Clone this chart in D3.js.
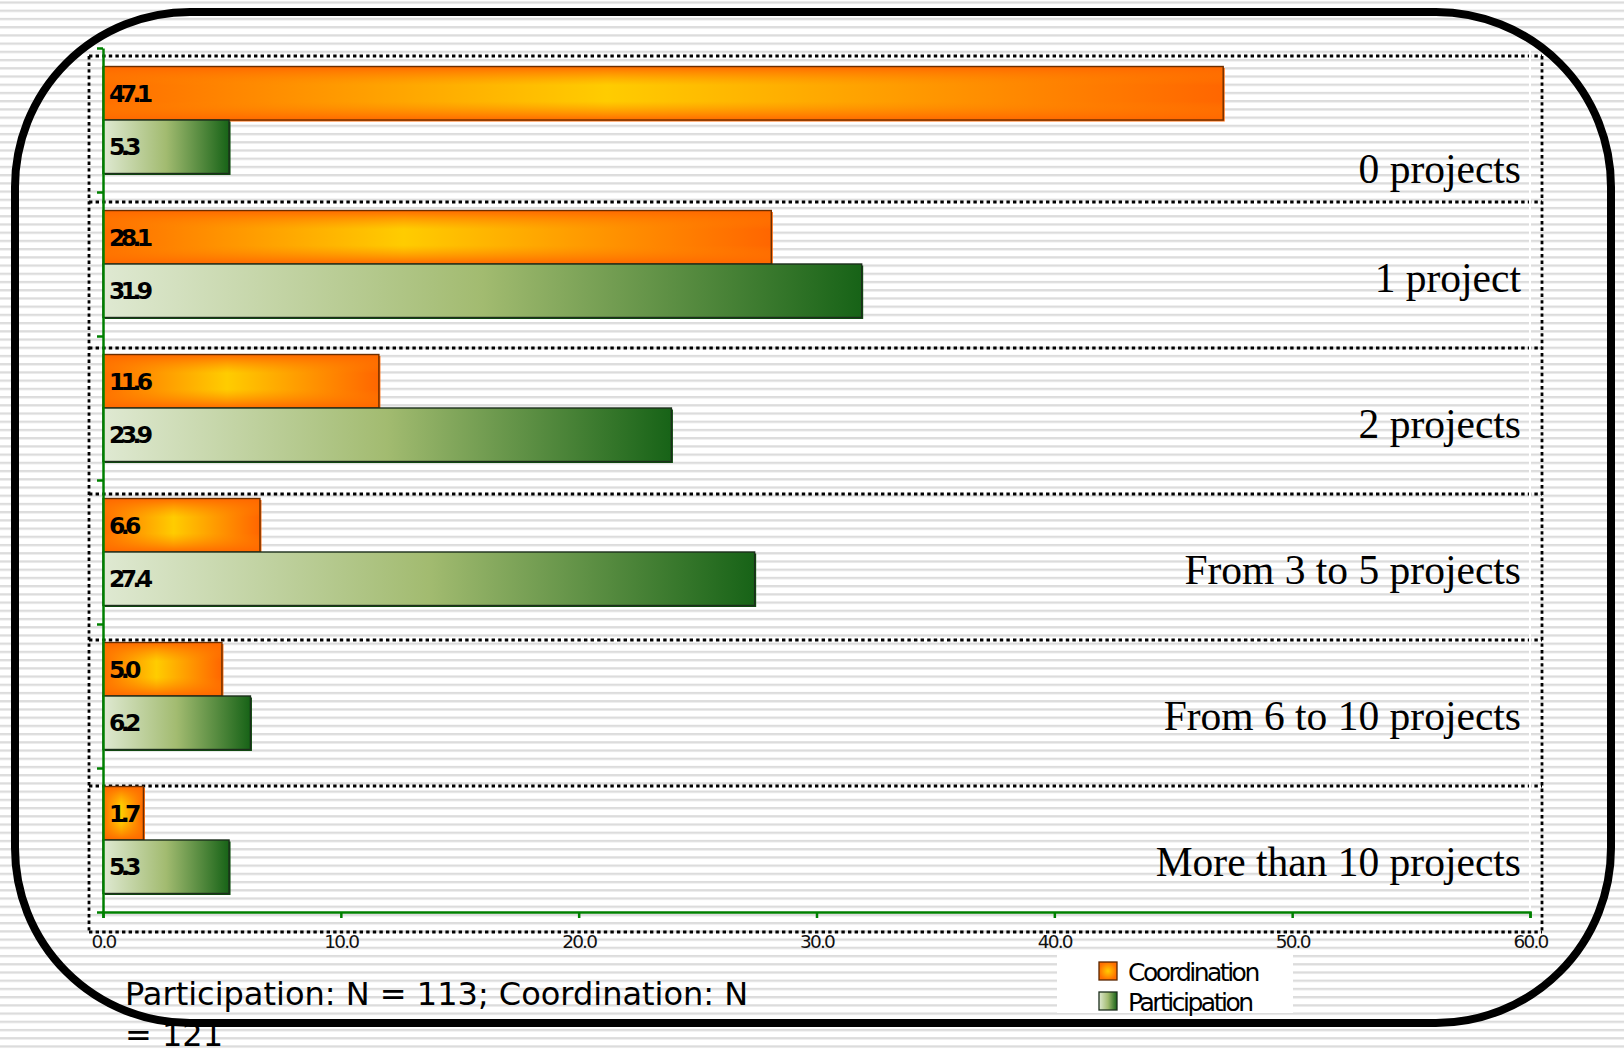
<!DOCTYPE html>
<html>
<head>
<meta charset="utf-8">
<script src="https://cdn.jsdelivr.net/npm/d3@7"></script>
<style>
  body { margin: 0; background: #fff; }
  svg { display: block; }
</style>
</head>
<body>
<svg id="canvas"></svg>
<script>
// Chart data
const categories = ["0 projects", "1 project", "2 projects", "From 3 to 5 projects", "From 6 to 10 projects", "More than 10 projects"];
const seriesNames = ["Coordination", "Participation"];
const coordination = [47.1, 28.1, 11.6, 6.6, 5.0, 1.7];
const participation = [5.3, 31.9, 23.9, 27.4, 6.2, 5.3];
const xTicks = [0, 10, 20, 30, 40, 50, 60];
const noteLines = ["Participation: N = 113; Coordination: N", "= 121"];

const width = 1624, height = 1049;
const axisGreen = "#008000";

const svg = d3.select("#canvas")
    .attr("width", width)
    .attr("height", height);

const defs = svg.append("defs");

// Striped background
const stripes = defs.append("pattern")
    .attr("id", "stripes")
    .attr("patternUnits", "userSpaceOnUse")
    .attr("width", 16)
    .attr("height", 8.22)
    .attr("patternTransform", "translate(0,1.4)");
stripes.append("rect").attr("width", 16).attr("height", 8.22).attr("fill", "#fff");
stripes.append("rect").attr("width", 16).attr("height", 2.3).attr("fill", "#dcdcdc");

// Orange bar gradients (horizontal + vertical edge overlay)
const orangeH = defs.append("linearGradient").attr("id", "orangeH");
orangeH.append("stop").attr("offset", "0%").attr("stop-color", "#ff6e00");
orangeH.append("stop").attr("offset", "45%").attr("stop-color", "#ffcc00");
orangeH.append("stop").attr("offset", "100%").attr("stop-color", "#ff6600");

const orangeV = defs.append("linearGradient").attr("id", "orangeV")
    .attr("x1", 0).attr("y1", 0).attr("x2", 0).attr("y2", 1);
orangeV.append("stop").attr("offset", "0%").attr("stop-color", "#ff6600").attr("stop-opacity", 0.95);
orangeV.append("stop").attr("offset", "35%").attr("stop-color", "#ff8800").attr("stop-opacity", 0);
orangeV.append("stop").attr("offset", "65%").attr("stop-color", "#ff8800").attr("stop-opacity", 0);
orangeV.append("stop").attr("offset", "100%").attr("stop-color", "#ff6600").attr("stop-opacity", 0.95);

const orangeR = defs.append("radialGradient").attr("id", "orangeR");
orangeR.append("stop").attr("offset", "0%").attr("stop-color", "#ffcc00");
orangeR.append("stop").attr("offset", "100%").attr("stop-color", "#ff7000");

// Green bar gradient
const greenH = defs.append("linearGradient").attr("id", "greenH");
greenH.append("stop").attr("offset", "0%").attr("stop-color", "#dfe9d2");
greenH.append("stop").attr("offset", "50%").attr("stop-color", "#a2bb70");
greenH.append("stop").attr("offset", "100%").attr("stop-color", "#176317");

svg.append("rect")
    .attr("width", width)
    .attr("height", height)
    .attr("fill", "url(#stripes)");

// Scales
const x = d3.scaleLinear().domain([0, 60]).range([103, 1530]);
const y = d3.scaleBand().domain(categories).range([48, 912]);
const ySub = d3.scaleBand().domain(seriesNames).range([0, y.bandwidth()]).paddingOuter(0.346);
const yEdge = d3.scaleLinear().domain([0, categories.length]).range([48, 912]);
const gridY = d3.scaleLinear().domain([0, categories.length]).range([56, 932]);

// Dotted frame and separators
const dotted = svg.append("g")
    .attr("stroke", "#000")
    .attr("stroke-width", 2.8)
    .attr("stroke-dasharray", "3.4,3.2")
    .attr("fill", "none");
dotted.selectAll("line.sep")
    .data(d3.range(categories.length + 1))
    .enter().append("line")
    .attr("class", "sep")
    .attr("x1", 89).attr("x2", 1542)
    .attr("y1", d => gridY(d)).attr("y2", d => gridY(d));
dotted.selectAll("line.side")
    .data([89, 1542])
    .enter().append("line")
    .attr("class", "side")
    .attr("x1", d => d).attr("x2", d => d)
    .attr("y1", gridY(0)).attr("y2", gridY(categories.length));

// faint plot edge at the right end of the value axis
svg.append("line")
    .attr("x1", x(60)).attr("x2", x(60))
    .attr("y1", 48).attr("y2", 912)
    .attr("stroke", "#fff").attr("stroke-width", 2);

// Bars
const rows = categories.map((c, i) => ({
    cat: c,
    values: [
        { key: "Coordination", value: coordination[i] },
        { key: "Participation", value: participation[i] }
    ]
}));

const groups = svg.selectAll("g.row")
    .data(rows)
    .enter().append("g")
    .attr("class", "row")
    .attr("transform", d => `translate(0,${y(d.cat)})`);

const bars = groups.selectAll("g.bar")
    .data(d => d.values)
    .enter().append("g")
    .attr("class", "bar");

// little offset shadow
bars.append("rect")
    .attr("x", x(0) + 1.5)
    .attr("y", d => ySub(d.key) + 1.5)
    .attr("width", d => x(d.value) - x(0))
    .attr("height", ySub.bandwidth())
    .attr("fill", d => d.key === "Coordination" ? "#ff6600" : "#0e4f0e");

bars.append("rect")
    .attr("x", x(0))
    .attr("y", d => ySub(d.key))
    .attr("width", d => x(d.value) - x(0))
    .attr("height", ySub.bandwidth())
    .attr("fill", d => d.key === "Coordination" ? "url(#orangeH)" : "url(#greenH)");

bars.filter(d => d.key === "Coordination").append("rect")
    .attr("x", x(0))
    .attr("y", d => ySub(d.key))
    .attr("width", d => x(d.value) - x(0))
    .attr("height", ySub.bandwidth())
    .attr("fill", "url(#orangeV)");

bars.append("rect")
    .attr("x", x(0))
    .attr("y", d => ySub(d.key))
    .attr("width", d => x(d.value) - x(0))
    .attr("height", ySub.bandwidth())
    .attr("fill", "none")
    .attr("stroke", d => d.key === "Coordination" ? "#6b2e00" : "#1c2e1c")
    .attr("stroke-width", 1.4);

bars.append("text")
    .attr("x", x(0) + 6)
    .attr("y", d => ySub(d.key) + ySub.bandwidth() / 2)
    .attr("dy", "0.36em")
    .attr("font-family", "DejaVu Sans")
    .attr("font-weight", "bold")
    .attr("font-size", 23.5)
    .attr("letter-spacing", -4.6)
    .attr("fill", "#000")
    .text(d => d.value.toFixed(1));

// Category labels (first one sits lower, under its long bar)
svg.selectAll("text.cat")
    .data(categories)
    .enter().append("text")
    .attr("class", "cat")
    .attr("x", 1521)
    .attr("y", (d, i) => gridY(i) + (i === 0 ? 127 : 90))
    .attr("text-anchor", "end")
    .attr("font-family", "Liberation Serif, Times New Roman, serif")
    .attr("font-size", 41.5)
    .attr("fill", "#000")
    .text(d => d);

// Axes
const yAxis = d3.axisLeft(yEdge)
    .tickValues(d3.range(categories.length + 1))
    .tickFormat("")
    .tickSize(6)
    .tickSizeOuter(0);
const yG = svg.append("g")
    .attr("transform", `translate(${x(0)},0)`)
    .call(yAxis);
yG.selectAll("path, line").attr("stroke", axisGreen).attr("stroke-width", 2.5);

const xAxis = d3.axisBottom(x)
    .tickValues(xTicks)
    .tickFormat(d3.format(".1f"))
    .tickSize(6)
    .tickPadding(17);
const xG = svg.append("g")
    .attr("transform", "translate(0,912)")
    .call(xAxis);
xG.selectAll("path, line").attr("stroke", axisGreen).attr("stroke-width", 2.5);
xG.selectAll("text")
    .attr("font-family", "DejaVu Sans")
    .attr("font-size", 18.5)
    .attr("letter-spacing", -1.8)
    .attr("fill", "#111");

// Legend
const legend = svg.append("g").attr("transform", "translate(1057,950)");
legend.append("rect").attr("width", 236).attr("height", 63).attr("fill", "#fff");
const li = legend.selectAll("g.item")
    .data(seriesNames)
    .enter().append("g")
    .attr("class", "item")
    .attr("transform", (d, i) => `translate(42,${12 + i * 30})`);
li.append("rect")
    .attr("width", 18).attr("height", 18)
    .attr("fill", d => d === "Coordination" ? "url(#orangeR)" : "url(#greenH)")
    .attr("stroke", d => d === "Coordination" ? "#5a2600" : "#1c2e1c")
    .attr("stroke-width", 1.3);
li.append("text")
    .attr("x", 29)
    .attr("y", 18.5)
    .attr("font-family", "DejaVu Sans")
    .attr("font-size", 25)
    .attr("letter-spacing", -2.5)
    .attr("fill", "#000")
    .text(d => d);

// Footnote (wraps and runs off the bottom as in the original)
svg.append("text")
    .attr("font-family", "DejaVu Sans")
    .attr("font-size", 32)
    .attr("fill", "#000")
    .selectAll("tspan")
    .data(noteLines)
    .enter().append("tspan")
    .attr("x", 125)
    .attr("y", (d, i) => 1005 + i * 41)
    .text(d => d);

// Rounded frame on top
svg.append("rect")
    .attr("x", 15).attr("y", 12)
    .attr("width", 1596).attr("height", 1011)
    .attr("rx", 175).attr("ry", 175)
    .attr("fill", "none")
    .attr("stroke", "#000")
    .attr("stroke-width", 8);
</script>
</body>
</html>
